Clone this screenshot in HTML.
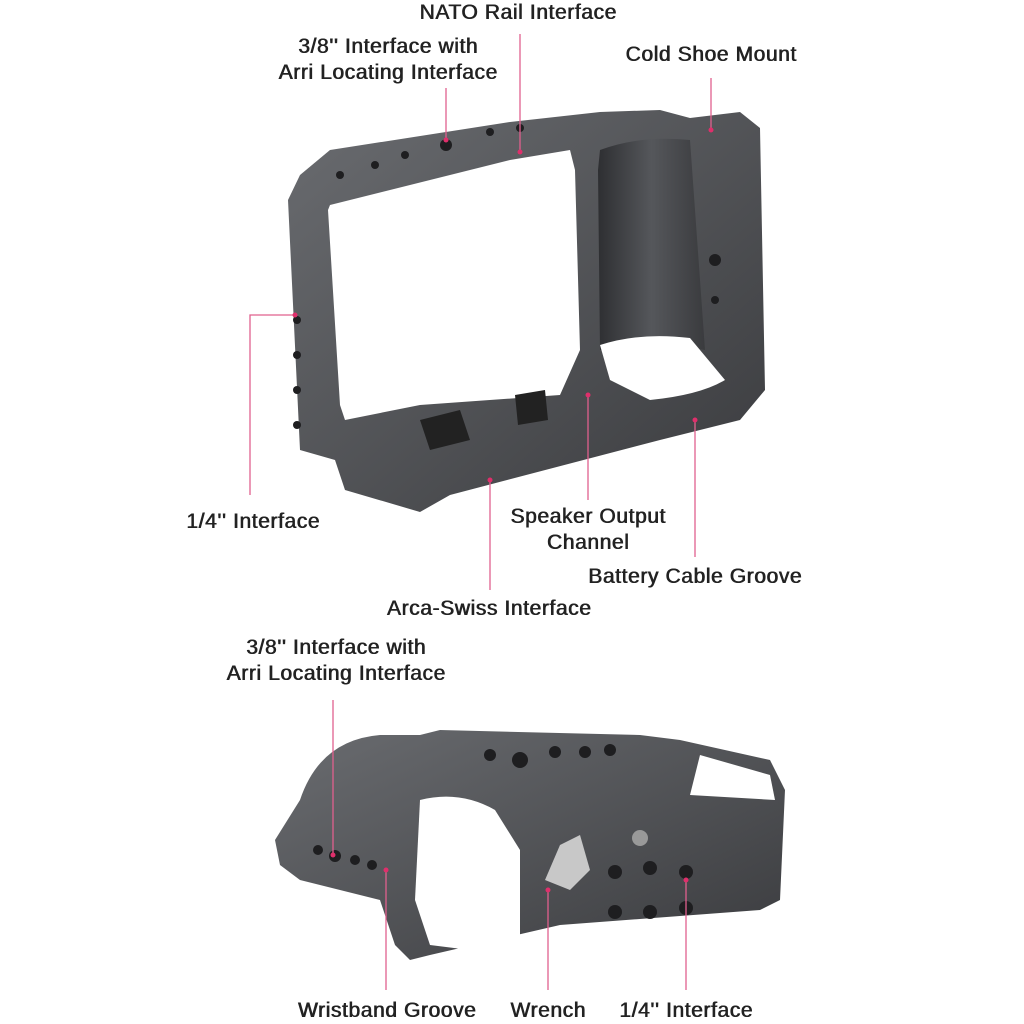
<!DOCTYPE html>
<html><head><meta charset="utf-8"><style>
html,body{margin:0;padding:0;background:#fff;}
#w{position:relative;width:1024px;height:1024px;overflow:hidden;font-family:"Liberation Sans",sans-serif;}
.t{position:absolute;font-size:21px;color:#222;font-weight:normal;line-height:26px;text-align:center;white-space:nowrap;letter-spacing:0.6px;text-shadow:0.7px 0 0 #222;}
svg{position:absolute;left:0;top:0;}
</style></head><body><div id="w">
<svg width="1024" height="1024" viewBox="0 0 1024 1024">
<defs>
<linearGradient id="g1" x1="0" y1="0" x2="1" y2="1"><stop offset="0" stop-color="#6a6c70"/><stop offset="1" stop-color="#3a3b3e"/></linearGradient>
<linearGradient id="g2" x1="0" y1="0" x2="1" y2="0"><stop offset="0" stop-color="#2e2f32"/><stop offset="0.5" stop-color="#55575b"/><stop offset="1" stop-color="#3a3b3e"/></linearGradient>
</defs>
<path d="M300 175 L330 150 L510 122 L600 112 L660 110 L690 118 L740 112 L760 128 L765 390 L740 420 L660 440 L450 495 L420 512 L345 490 L335 460 L300 450 L288 200 Z" fill="url(#g1)"/>
<path d="M330 205 L510 160 L570 150 L575 170 L580 350 L560 395 L420 405 L345 420 L340 405 L328 210 Z" fill="#fff"/>
<path d="M600 150 Q640 135 690 140 L705 350 Q660 340 600 350 L598 170 Z" fill="url(#g2)"/>
<path d="M600 345 Q640 332 690 338 L725 380 Q700 395 650 400 L610 380 Z" fill="#fff"/>
<path d="M420 420 L460 410 L470 440 L430 450 Z" fill="#222"/>
<path d="M515 395 L545 390 L548 420 L518 425 Z" fill="#222"/>
<g fill="#1e1e20"><circle cx="340" cy="175" r="4"/><circle cx="375" cy="165" r="4"/><circle cx="405" cy="155" r="4"/><circle cx="446" cy="145" r="6"/><circle cx="490" cy="132" r="4"/><circle cx="520" cy="128" r="4"/>
<circle cx="297" cy="320" r="4"/><circle cx="297" cy="355" r="4"/><circle cx="297" cy="390" r="4"/><circle cx="297" cy="425" r="4"/><circle cx="715" cy="260" r="6"/><circle cx="715" cy="300" r="4"/></g>
<path d="M300 800 Q320 740 380 735 L420 735 L440 730 L640 735 L680 740 L770 760 L785 790 L780 900 L760 910 L560 925 L430 955 L410 960 L395 945 L380 900 L300 880 L280 865 L275 840 Z" fill="url(#g1)"/>
<path d="M420 800 Q460 790 495 810 L520 850 L520 940 L470 950 L430 945 L415 900 Z" fill="#fff"/>
<path d="M700 755 L770 775 L775 800 L690 795 Z" fill="#fff"/>
<path d="M560 845 L580 835 L590 870 L570 890 L545 880 Z" fill="#c8c8c8"/>
<g fill="#1e1e20"><circle cx="615" cy="872" r="7"/><circle cx="650" cy="868" r="7"/><circle cx="686" cy="872" r="7"/><circle cx="615" cy="912" r="7"/><circle cx="650" cy="912" r="7"/><circle cx="686" cy="908" r="7"/><circle cx="640" cy="838" r="8" fill="#999"/>
<circle cx="318" cy="850" r="5"/><circle cx="335" cy="856" r="6"/><circle cx="355" cy="860" r="5"/><circle cx="372" cy="865" r="5"/>
<circle cx="490" cy="755" r="6"/><circle cx="520" cy="760" r="8"/><circle cx="555" cy="752" r="6"/><circle cx="585" cy="752" r="6"/><circle cx="610" cy="750" r="6"/></g>
<g stroke="#e0608e" stroke-width="1.3" fill="none">
<path d="M520 34 V152"/><path d="M446 88 V140"/><path d="M711 78 V130"/>
<path d="M250 495 V315 H295"/><path d="M588 395 V500"/><path d="M695 420 V557"/><path d="M490 480 V590"/>
<path d="M333 700 V855"/><path d="M386 870 V990"/><path d="M548 890 V990"/><path d="M686 880 V990"/>
</g>
<g fill="#df2f6b"><circle cx="520" cy="152" r="2.5"/><circle cx="446" cy="140" r="2.5"/><circle cx="711" cy="130" r="2.5"/><circle cx="295" cy="315" r="2.5"/><circle cx="588" cy="395" r="2.5"/><circle cx="695" cy="420" r="2.5"/><circle cx="490" cy="480" r="2.5"/><circle cx="333" cy="855" r="2.5"/><circle cx="386" cy="870" r="2.5"/><circle cx="548" cy="890" r="2.5"/><circle cx="686" cy="880" r="2.5"/></g>
</svg>
<div class="t" style="left:398px;top:0px;width:240px;">NATO Rail Interface</div>
<div class="t" style="left:258px;top:34px;width:260px;">3/8'' Interface with<br>Arri Locating Interface</div>
<div class="t" style="left:611px;top:42px;width:200px;">Cold Shoe Mount</div>
<div class="t" style="left:173px;top:509px;width:160px;">1/4'' Interface</div>
<div class="t" style="left:488px;top:504px;width:200px;">Speaker Output<br>Channel</div>
<div class="t" style="left:574px;top:564px;width:242px;">Battery Cable Groove</div>
<div class="t" style="left:368px;top:596px;width:242px;">Arca-Swiss Interface</div>
<div class="t" style="left:206px;top:635px;width:260px;">3/8'' Interface with<br>Arri Locating Interface</div>
<div class="t" style="left:282px;top:998px;width:210px;">Wristband Groove</div>
<div class="t" style="left:498px;top:998px;width:100px;">Wrench</div>
<div class="t" style="left:606px;top:998px;width:160px;">1/4'' Interface</div>
</div></body></html>
